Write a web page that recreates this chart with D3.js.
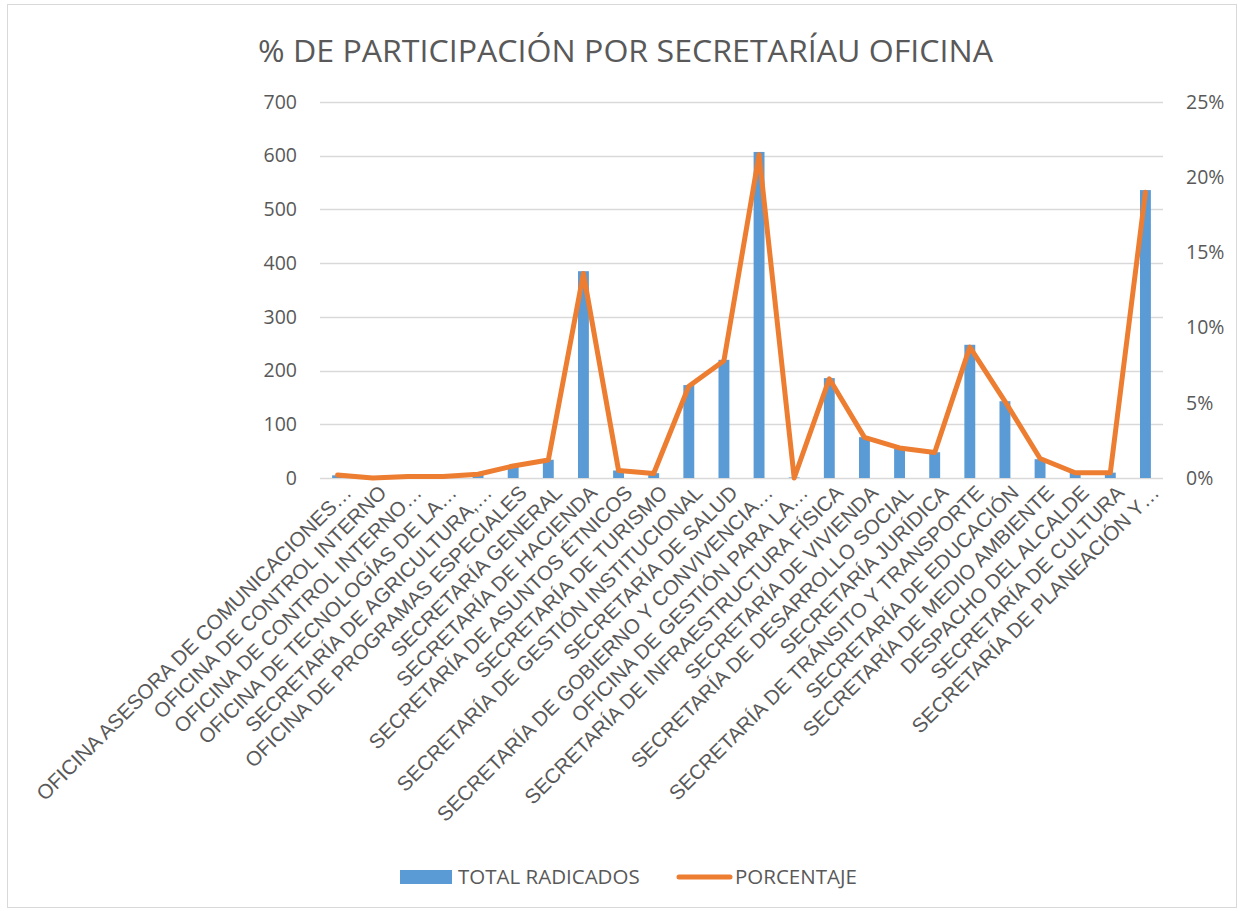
<!DOCTYPE html>
<html>
<head>
<meta charset="utf-8">
<script src="https://cdn.jsdelivr.net/npm/d3@7"></script>
<style>
  body { margin: 0; background: #fff; }
  text { fill: #595959; }
</style>
</head>
<body>
<script>
// categories (as shown on the x axis, already truncated like the original)
const categories = [
  "OFICINA ASESORA DE COMUNICACIONES…",
  "OFICINA DE CONTROL INTERNO",
  "OFICINA DE CONTROL INTERNO…",
  "OFICINA DE TECNOLOGÍAS DE LA…",
  "SECRETARÍA DE AGRICULTURA,…",
  "OFICINA DE PROGRAMAS ESPECIALES",
  "SECRETARÍA GENERAL",
  "SECRETARÍA DE HACIENDA",
  "SECRETARÍA DE ASUNTOS ÉTNICOS",
  "SECRETARÍA DE TURISMO",
  "SECRETARÍA DE GESTIÓN INSTITUCIONAL",
  "SECRETARÍA DE SALUD",
  "SECRETARÍA DE GOBIERNO Y CONVIVENCIA…",
  "OFICINA DE GESTIÓN PARA LA…",
  "SECRETARÍA DE INFRAESTRUCTURA FÍSICA",
  "SECRETARÍA DE VIVIENDA",
  "SECRETARÍA DE DESARROLLO SOCIAL",
  "SECRETARÍA JURÍDICA",
  "SECRETARÍA DE TRÁNSITO Y TRANSPORTE",
  "SECRETARÍA DE EDUCACIÓN",
  "SECRETARÍA DE MEDIO AMBIENTE",
  "DESPACHO DEL ALCALDE",
  "SECRETARÍA DE CULTURA",
  "SECRETARÍA DE PLANEACIÓN Y…"
];

// TOTAL RADICADOS (left axis)
const totals = [5, 0, 2, 2, 7, 24, 34, 385, 14, 9, 173, 220, 607, 1, 186, 76, 54, 48, 248, 143, 35, 10, 10, 536];

// PORCENTAJE (right axis, fraction)
const percents = [0.002, 0.0, 0.001, 0.001, 0.0025, 0.008, 0.012, 0.136, 0.005, 0.003, 0.061, 0.078,
                  0.215, 0.0, 0.066, 0.027, 0.02, 0.017, 0.087, 0.051, 0.013, 0.0035, 0.0035, 0.19];

const leftTicks = [0, 100, 200, 300, 400, 500, 600, 700];
const rightTicks = [0, 0.05, 0.10, 0.15, 0.20, 0.25];

const width = 1238, height = 911;
const margin = {top: 102, left: 320, right: 75, bottom: 433};
const plotW = width - margin.left - margin.right;
const plotH = height - margin.top - margin.bottom;

const blue = "#5b9bd5", orange = "#ed7d31", grid = "#d9d9d9";

const svg = d3.select("body").append("svg")
  .attr("width", width)
  .attr("height", height);

// outer chart border
svg.append("rect")
  .attr("x", 7.5).attr("y", 4.5)
  .attr("width", 1229).attr("height", 903)
  .attr("fill", "none")
  .attr("stroke", grid);

const x = d3.scaleBand().domain(categories).range([margin.left, margin.left + plotW]).paddingInner(0.69).paddingOuter(0.345);
const y = d3.scaleLinear().domain([0, 700]).range([margin.top + plotH, margin.top]);
const y2 = d3.scaleLinear().domain([0, 0.25]).range([margin.top + plotH, margin.top]);

// gridlines
svg.append("g").selectAll("line")
  .data(leftTicks)
  .enter().append("line")
  .attr("x1", margin.left).attr("x2", margin.left + plotW)
  .attr("y1", d => Math.round(y(d)) + 0.5).attr("y2", d => Math.round(y(d)) + 0.5)
  .attr("stroke", grid).attr("stroke-width", 1.5);

// left axis
const leftAxis = d3.axisLeft(y).tickValues(leftTicks).tickSize(0).tickPadding(23);
svg.append("g")
  .attr("transform", `translate(${margin.left},0)`)
  .call(leftAxis)
  .call(g => g.select(".domain").remove())
  .selectAll("text")
  .style("font-family", "'Open Sans', sans-serif")
  .style("font-size", "19.5px")
  .attr("fill", "#595959");

// right axis
const rightAxis = d3.axisRight(y2).tickValues(rightTicks).tickSize(0).tickPadding(23).tickFormat(d3.format(".0%"));
svg.append("g")
  .attr("transform", `translate(${margin.left + plotW},0)`)
  .call(rightAxis)
  .call(g => g.select(".domain").remove())
  .selectAll("text")
  .style("font-family", "'Open Sans', sans-serif")
  .style("font-size", "19.5px")
  .attr("fill", "#595959");

// bars
svg.append("g").selectAll("rect")
  .data(totals)
  .enter().append("rect")
  .attr("x", (d, i) => x(categories[i]))
  .attr("y", d => y(d))
  .attr("width", x.bandwidth())
  .attr("height", d => y(0) - y(d))
  .attr("fill", blue);

// percentage line
const line = d3.line()
  .x((d, i) => x(categories[i]) + x.bandwidth() / 2)
  .y(d => y2(d));

svg.append("path")
  .datum(percents)
  .attr("d", line)
  .attr("fill", "none")
  .attr("stroke", orange)
  .attr("stroke-width", 5)
  .attr("stroke-linejoin", "round")
  .attr("stroke-linecap", "round");

// x labels
svg.append("g").selectAll("text")
  .data(categories)
  .enter().append("text")
  .attr("transform", d => `translate(${x(d) + x.bandwidth() / 2 + 10},${y(0) + 11}) rotate(-45)`)
  .attr("text-anchor", "end")
  .attr("dy", "0.35em")
  .style("font-family", "'Liberation Sans', Arial, sans-serif")
  .style("font-size", "20.5px")
  .text(d => d);

// title
svg.append("text")
  .attr("x", 258)
  .attr("y", 62)
  .attr("textLength", 735)
  .attr("lengthAdjust", "spacingAndGlyphs")
  .style("font-family", "'Open Sans', sans-serif")
  .style("font-size", "31px")
  .text("% DE PARTICIPACIÓN POR SECRETARÍAU OFICINA");

// legend
const legend = svg.append("g").attr("id", "legend");
legend.append("rect")
  .attr("x", 400).attr("y", 870)
  .attr("width", 52).attr("height", 14)
  .attr("fill", blue);
legend.append("text")
  .attr("x", 458).attr("y", 884)
  .style("font-family", "'Open Sans', sans-serif")
  .style("font-size", "20.5px")
  .text("TOTAL RADICADOS");
legend.append("line")
  .attr("x1", 679).attr("x2", 730)
  .attr("y1", 877).attr("y2", 877)
  .attr("stroke", orange).attr("stroke-width", 5)
  .attr("stroke-linecap", "round");
legend.append("text")
  .attr("x", 735).attr("y", 884)
  .style("font-family", "'Open Sans', sans-serif")
  .style("font-size", "20.5px")
  .text("PORCENTAJE");
</script>
</body>
</html>
